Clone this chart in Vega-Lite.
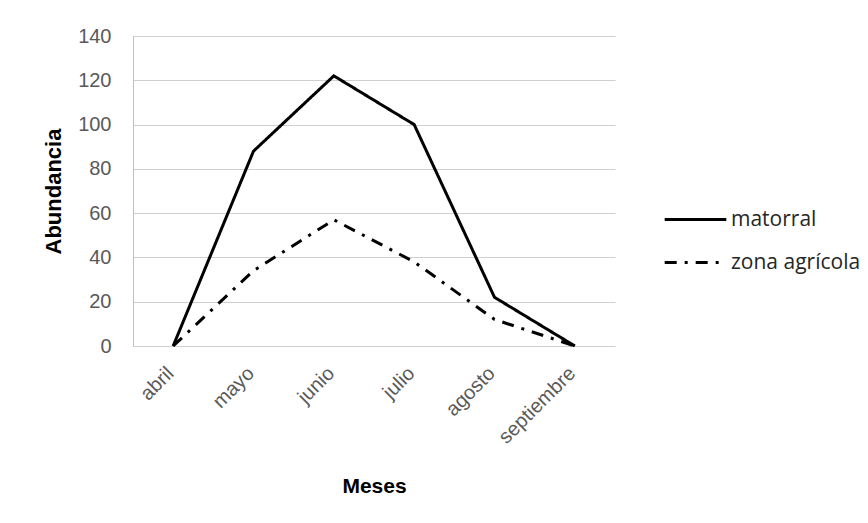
{
  "$schema": "https://vega.github.io/schema/vega-lite/v6.json",
  "width": 482,
  "height": 310,
  "autosize": {"type": "none"},
  "padding": {"left": 133, "top": 36, "right": 253, "bottom": 177},
  "background": "white",
  "data": {
    "values": [
      {"mes": "abril", "serie": "matorral", "valor": 0},
      {"mes": "mayo", "serie": "matorral", "valor": 88},
      {"mes": "junio", "serie": "matorral", "valor": 122},
      {"mes": "julio", "serie": "matorral", "valor": 100},
      {"mes": "agosto", "serie": "matorral", "valor": 22},
      {"mes": "septiembre", "serie": "matorral", "valor": 0},
      {"mes": "abril", "serie": "zona agrícola", "valor": 0},
      {"mes": "mayo", "serie": "zona agrícola", "valor": 34},
      {"mes": "junio", "serie": "zona agrícola", "valor": 57},
      {"mes": "julio", "serie": "zona agrícola", "valor": 38},
      {"mes": "agosto", "serie": "zona agrícola", "valor": 12},
      {"mes": "septiembre", "serie": "zona agrícola", "valor": 0}
    ]
  },
  "mark": {"type": "line", "strokeWidth": 3, "color": "black"},
  "encoding": {
    "x": {
      "field": "mes",
      "type": "ordinal",
      "sort": ["abril", "mayo", "junio", "julio", "agosto", "septiembre"],
      "scale": {"type": "point", "padding": 0.5},
      "axis": {
        "title": "Meses",
        "titleFont": "Liberation Sans",
        "titleFontSize": 21,
        "titleFontWeight": "bold",
        "titleColor": "black",
        "titlePadding": 28,
        "labelAngle": -45,
        "labelAlign": "right",
        "labelBaseline": "middle",
        "labelFont": "Liberation Sans",
        "labelFontSize": 20,
        "labelColor": "#595959",
        "labelPadding": 24,
        "labelOffset": -3,
        "ticks": false,
        "domain": false,
        "grid": false
      }
    },
    "y": {
      "field": "valor",
      "type": "quantitative",
      "scale": {"domain": [0, 140], "nice": false},
      "axis": {
        "title": "Abundancia",
        "titleFont": "Liberation Sans",
        "titleFontSize": 22,
        "titleFontWeight": "bold",
        "titleColor": "black",
        "titlePadding": 12,
        "values": [0, 20, 40, 60, 80, 100, 120, 140],
        "labelFont": "Liberation Sans",
        "labelFontSize": 20,
        "labelColor": "#595959",
        "labelPadding": 22,
        "ticks": false,
        "domain": true,
        "domainColor": "#bfbfbf",
        "grid": true,
        "gridColor": "#d0d0d0",
        "gridWidth": 1.2
      }
    },
    "strokeDash": {
      "field": "serie",
      "type": "nominal",
      "scale": {"domain": ["matorral", "zona agrícola"], "range": [[1, 0], [12, 8, 3, 8]]},
      "legend": {
        "title": null,
        "orient": "none",
        "legendX": 530,
        "legendY": 151,
        "symbolType": "stroke",
        "symbolSize": 3800,
        "symbolStrokeWidth": 3,
        "symbolStrokeColor": "black",
        "labelFont": "Open Sans",
        "labelFontSize": 21,
        "labelColor": "#262626",
        "labelOffset": 3,
        "rowPadding": -12
      }
    }
  },
  "config": {"view": {"stroke": null}}
}
